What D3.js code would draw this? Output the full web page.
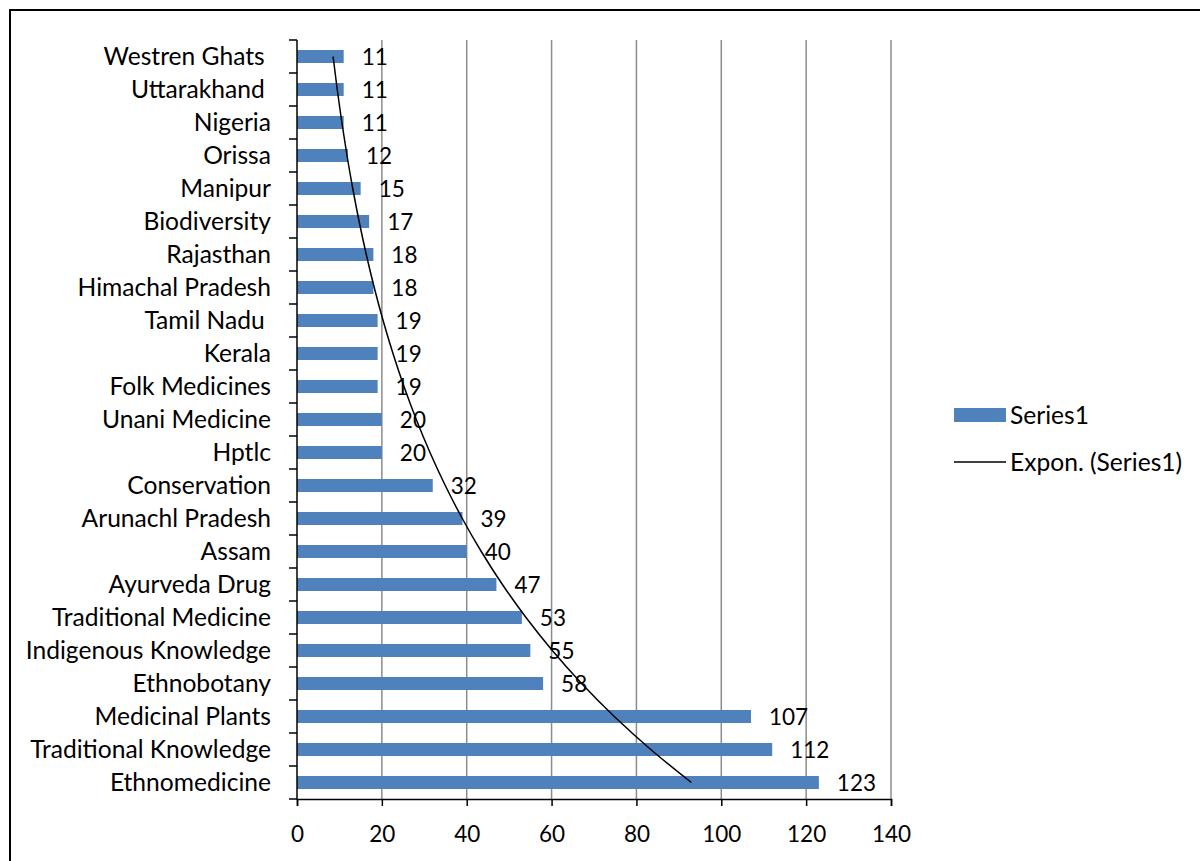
<!DOCTYPE html>
<html>
<head>
<meta charset="utf-8">
<script src="https://cdn.jsdelivr.net/npm/d3@7"></script>
<style>
  html, body { margin: 0; padding: 0; background: #fff; }
  svg { display: block; }
  text { font-family: Lato, "Open Sans", sans-serif; fill: #000; white-space: pre; }
</style>
</head>
<body>
<svg id="chart" width="1200" height="861"></svg>
<script>
// Categories listed bottom-to-top as the series runs (first item sits at the bottom)
const categories = [
  "Ethnomedicine", "Traditional Knowledge", "Medicinal Plants", "Ethnobotany",
  "Indigenous Knowledge", "Traditional Medicine", "Ayurveda Drug", "Assam",
  "Arunachl Pradesh", "Conservation", "Hptlc", "Unani Medicine",
  "Folk Medicines", "Kerala", "Tamil Nadu ", "Himachal Pradesh",
  "Rajasthan", "Biodiversity", "Manipur", "Orissa",
  "Nigeria", "Uttarakhand ", "Westren Ghats "
];
const series1 = [123, 112, 107, 58, 55, 53, 47, 40, 39, 32, 20, 20, 19, 19, 19, 18, 18, 17, 15, 12, 11, 11, 11];
const xTicks = [0, 20, 40, 60, 80, 100, 120, 140];
const legendLabels = ["Series1", "Expon. (Series1)"];

const svg = d3.select("#chart");
const barColor = "#4F81BD";
const labelSize = 24.6;
const numberSize = 22.5;

// outer frame
svg.append("rect")
  .attr("x", 10).attr("y", 10).attr("width", 1200).attr("height", 900)
  .attr("fill", "none").attr("stroke", "#000").attr("stroke-width", 2);

const plot = { left: 297, right: 891, top: 40, bottom: 799 };

const x = d3.scaleLinear().domain([0, 140]).range([plot.left, plot.right]);
// the last category is drawn at the top
const yEdges = d3.scaleBand()
  .domain(categories.slice().reverse())
  .range([plot.top, plot.bottom]);
const yMid = d => yEdges(d) + yEdges.bandwidth() / 2;

// vertical gridlines
svg.append("g").selectAll("line")
  .data(xTicks.slice(1))
  .join("line")
  .attr("x1", d => x(d)).attr("x2", d => x(d))
  .attr("y1", plot.top).attr("y2", plot.bottom)
  .attr("stroke", "#8c8c8c").attr("stroke-width", 1.5);

// bars
svg.append("g").selectAll("rect")
  .data(categories)
  .join("rect")
  .attr("x", x(0))
  .attr("y", d => yMid(d) - 6.5)
  .attr("width", (d, i) => x(series1[i]) - x(0))
  .attr("height", 13)
  .attr("fill", barColor);

// data labels
svg.append("g").selectAll("text")
  .data(categories)
  .join("text")
  .attr("x", (d, i) => x(series1[i]) + 18)
  .attr("y", d => yMid(d))
  .attr("dy", "0.36em")
  .attr("font-size", numberSize)
  .text((d, i) => series1[i]);

// exponential trendline: least-squares fit of ln(y) against position 1..n
const n = series1.length;
const xs = d3.range(1, n + 1);
const ly = series1.map(v => Math.log(v));
const mx = d3.mean(xs), my = d3.mean(ly);
const b = d3.sum(xs, (xi, i) => (xi - mx) * (ly[i] - my)) / d3.sum(xs, xi => (xi - mx) ** 2);
const a = Math.exp(my - b * mx);
const trend = xs.map((xi, i) => ({ cat: categories[i], v: a * Math.exp(b * xi) }));

const line = d3.line()
  .x(d => x(d.v))
  .y(d => yMid(d.cat))
  .curve(d3.curveMonotoneY);
svg.append("path")
  .datum(trend)
  .attr("d", line)
  .attr("fill", "none").attr("stroke", "#000").attr("stroke-width", 1.5);

// x axis
const xAxis = d3.axisBottom(x).tickValues(xTicks).tickSize(7);
const gx = svg.append("g").attr("transform", `translate(0,${plot.bottom})`).call(xAxis);
gx.select(".domain").attr("stroke", "#000").attr("stroke-width", 1.5);
gx.selectAll(".tick line").attr("stroke", "#000").attr("stroke-width", 1.5);
gx.selectAll("text")
  .attr("y", 43).attr("dy", null)
  .attr("font-size", numberSize).attr("font-family", "Lato, sans-serif").attr("fill", "#000");

// y axis: tick marks sit on the boundaries between categories
const gy = svg.append("g");
gy.append("line")
  .attr("x1", plot.left).attr("x2", plot.left)
  .attr("y1", plot.top).attr("y2", plot.bottom)
  .attr("stroke", "#000").attr("stroke-width", 1.5);
const edges = d3.range(0, categories.length + 1).map(i => plot.top + i * yEdges.step());
gy.selectAll("line.edge")
  .data(edges)
  .join("line")
  .attr("class", "edge")
  .attr("x1", plot.left - 8).attr("x2", plot.left)
  .attr("y1", d => d).attr("y2", d => d)
  .attr("stroke", "#000").attr("stroke-width", 1.5);
gy.selectAll("text")
  .data(categories)
  .join("text")
  .attr("x", plot.left - 26)
  .attr("y", d => yMid(d))
  .attr("dy", "0.36em")
  .attr("text-anchor", "end")
  .attr("font-size", labelSize)
  .text(d => d);

// legend
const lg = svg.append("g");
lg.append("rect")
  .attr("x", 954).attr("y", 408).attr("width", 52).attr("height", 14)
  .attr("fill", barColor);
lg.append("text")
  .attr("x", 1010).attr("y", 415).attr("dy", "0.36em")
  .attr("font-size", labelSize).text(legendLabels[0]);
lg.append("line")
  .attr("x1", 954).attr("x2", 1006).attr("y1", 462).attr("y2", 462)
  .attr("stroke", "#000").attr("stroke-width", 1.5);
lg.append("text")
  .attr("x", 1010).attr("y", 462).attr("dy", "0.36em")
  .attr("font-size", labelSize).text(legendLabels[1]);
</script>
</body>
</html>
